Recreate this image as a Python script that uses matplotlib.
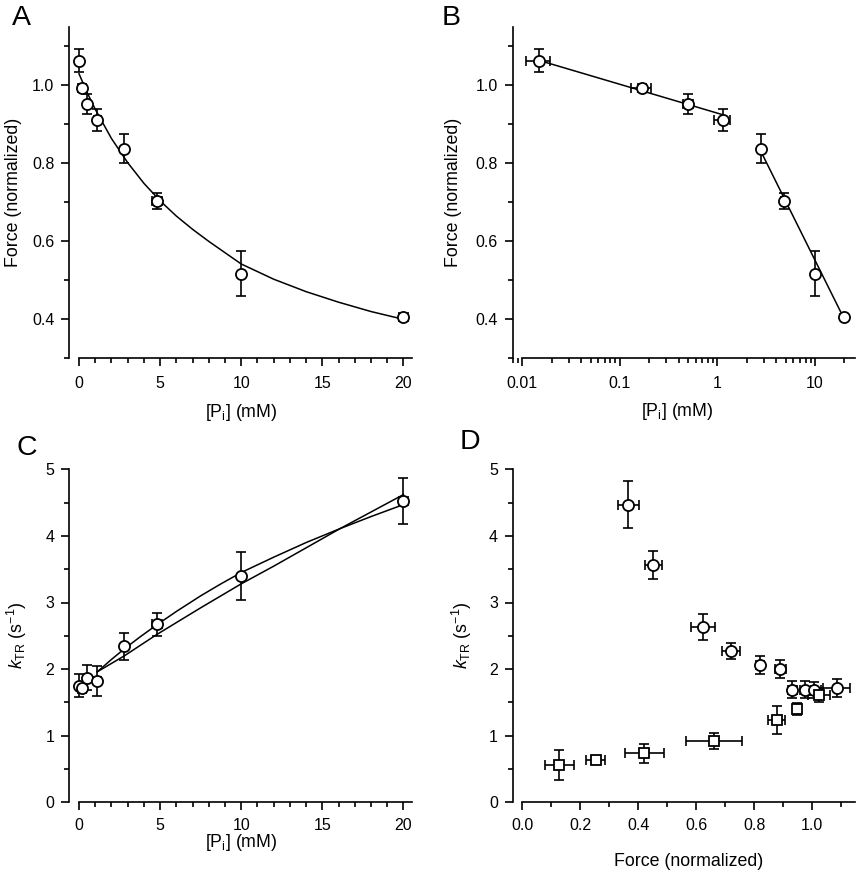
import matplotlib
matplotlib.use("Agg")
import matplotlib.pyplot as plt
from matplotlib.ticker import MultipleLocator, FormatStrFormatter, FixedLocator, FixedFormatter, LogLocator, NullFormatter

plt.rcParams['font.family'] = ['Liberation Sans', 'DejaVu Sans']
plt.rcParams['mathtext.fontset'] = 'custom'
plt.rcParams['mathtext.rm'] = 'Liberation Sans'
plt.rcParams['mathtext.it'] = 'Liberation Sans:italic'
plt.rcParams['mathtext.bf'] = 'Liberation Sans:bold'

# ---------------- data ----------------
pi_conc = [0.015, 0.17, 0.5, 1.13, 2.8, 4.8, 10, 20]
pi_err = [0.004, 0.04, 0.06, 0.2, 0.1, 0.3, 0.1, 0.3]
force = [1.064, 0.994, 0.953, 0.912, 0.838, 0.704, 0.517, 0.406]
force_err = [0.030, 0.010, 0.025, 0.028, 0.038, 0.020, 0.058, 0.008]

# fitted curve in A
fitA_x = [0, 0.5, 1, 2, 3, 4, 5, 6, 7, 8, 10, 12, 14, 16, 18, 20]
fitA_y = [1.030, 0.982, 0.939, 0.864, 0.802, 0.749, 0.704, 0.665, 0.631,
          0.600, 0.542, 0.503, 0.471, 0.444, 0.420, 0.400]

# line segments in B
segB1_x = [0.015, 1.13]
segB1_y = [1.064, 0.925]
segB2_x = [2.8, 20]
segB2_y = [0.83, 0.40]

# panel C
ktr = [1.75, 1.72, 1.87, 1.82, 2.34, 2.67, 3.40, 4.52]
ktr_err = [0.175, 0.08, 0.19, 0.22, 0.20, 0.17, 0.36, 0.345]
fitC1_x = [1.13, 2, 2.8, 3.8, 4.8, 6, 7.5, 8.75, 10, 12, 14, 16.1, 18, 20]
fitC1_y = [1.96, 2.145, 2.305, 2.49, 2.665, 2.865, 3.10, 3.28, 3.45, 3.68,
           3.90, 4.11, 4.29, 4.47]
fitC2_x = [1.13, 2.8, 4.8, 7.5, 10, 12, 16.1, 20]
fitC2_y = [1.96, 2.20, 2.52, 2.92, 3.28, 3.545, 4.11, 4.62]

# panel D circles
d_force_c = [0.366, 0.452, 0.624, 0.720, 0.820, 0.889, 0.931, 0.976, 1.004, 1.084]
d_force_c_err = [0.035, 0.030, 0.041, 0.032, 0.015, 0.019, 0.016, 0.020, 0.026, 0.047]
d_ktr_c = [4.47, 3.57, 2.63, 2.27, 2.06, 2.00, 1.69, 1.69, 1.69, 1.72]
d_ktr_c_err = [0.35, 0.21, 0.19, 0.12, 0.13, 0.14, 0.13, 0.13, 0.12, 0.135]
# panel D squares
d_force_s = [0.128, 0.253, 0.421, 0.661, 0.877, 0.946, 1.022]
d_force_s_err = [0.050, 0.033, 0.066, 0.098, 0.030, 0.008, 0.038]
d_ktr_s = [0.56, 0.636, 0.736, 0.921, 1.236, 1.40, 1.61]
d_ktr_s_err = [0.225, 0.05, 0.145, 0.12, 0.21, 0.085, 0.11]

xlabel_pi = r'[P$_{\mathrm{i}}$] (mM)'
ylabel_force = 'Force (normalized)'
ylabel_ktr = r'$k_{\mathrm{TR}}$ (s$^{\mathrm{-1}}$)'

# ---------------- figure ----------------
W, H = 858, 873
fig = plt.figure(figsize=(W / 100, H / 100), dpi=100)

def box(l, r, t, b):
    return [l / W, 1 - b / H, (r - l) / W, (b - t) / H]

axA = fig.add_axes(box(69, 412, 27, 358.3))
axB = fig.add_axes(box(512.7, 855, 27, 358.3))
axC = fig.add_axes(box(69, 412, 469.3, 802.3))
axD = fig.add_axes(box(512.7, 855, 469.3, 802.3))

LW = 1.2
eb_kw = dict(fmt='none', ecolor='black', elinewidth=LW, capsize=3.6, capthick=LW, zorder=2)
mk_kw = dict(linestyle='none', mfc='white', mec='black', mew=1.3, zorder=3)

def style(ax, xbounds, xpad, xlab_pos, ylab_pos, xlabel, ylabel):
    for s in ['top', 'right']:
        ax.spines[s].set_visible(False)
    for s in ['left', 'bottom']:
        ax.spines[s].set_linewidth(LW)
    ax.spines['bottom'].set_bounds(*xbounds)
    ax.tick_params(axis='both', which='both', direction='out', width=LW, labelsize=11.5)
    ax.tick_params(axis='y', which='major', length=6, pad=4.5)
    ax.tick_params(axis='y', which='minor', length=3.5)
    ax.tick_params(axis='x', which='major', length=5.5, pad=xpad)
    ax.tick_params(axis='x', which='minor', length=3.5)
    ax.set_xlabel(xlabel, fontsize=12.8)
    ax.set_ylabel(ylabel, fontsize=12.8)
    ax.xaxis.set_label_coords(*xlab_pos)
    ax.xaxis.label.set_verticalalignment('center')
    ax.yaxis.set_label_coords(*ylab_pos)
    ax.yaxis.label.set_verticalalignment('center')

# Panel A
axA.plot(fitA_x, fitA_y, color='black', lw=1.1, zorder=1)
axA.errorbar(pi_conc, force, yerr=force_err, xerr=pi_err, **eb_kw)
axA.plot(pi_conc, force, 'o', ms=8, **mk_kw)
axA.set_xlim(-0.617, 20.53)
axA.set_ylim(0.3, 1.15)
axA.xaxis.set_major_locator(MultipleLocator(5))
axA.xaxis.set_minor_locator(MultipleLocator(1))
axA.yaxis.set_major_locator(MultipleLocator(0.2))
axA.yaxis.set_minor_locator(MultipleLocator(0.1))
axA.yaxis.set_major_formatter(FormatStrFormatter('%.1f'))
style(axA, (0, 20.53), 7, (0.5035, -0.165), (-0.162, 0.5), xlabel_pi, ylabel_force)

# Panel B
axB.set_xscale('log')
axB.plot(segB1_x, segB1_y, color='black', lw=1.1, zorder=1)
axB.plot(segB2_x, segB2_y, color='black', lw=1.1, zorder=1)
axB.errorbar(pi_conc, force, yerr=force_err, xerr=pi_err, **eb_kw)
axB.plot(pi_conc, force, 'o', ms=8, **mk_kw)
axB.set_xlim(0.00797, 25.7)
axB.set_ylim(0.3, 1.15)
axB.xaxis.set_major_locator(FixedLocator([0.01, 0.1, 1, 10]))
axB.xaxis.set_major_formatter(FixedFormatter(['0.01', '0.1', '1', '10']))
axB.xaxis.set_minor_locator(LogLocator(base=10, subs=[2, 3, 4, 5, 6, 7, 8, 9]))
axB.xaxis.set_minor_formatter(NullFormatter())
axB.yaxis.set_major_locator(MultipleLocator(0.2))
axB.yaxis.set_minor_locator(MultipleLocator(0.1))
axB.yaxis.set_major_formatter(FormatStrFormatter('%.1f'))
style(axB, (0.01, 25.7), 7, (0.481, -0.161), (-0.1735, 0.5), xlabel_pi, ylabel_force)

# Panel C
axC.plot(fitC1_x, fitC1_y, color='black', lw=1.1, zorder=1)
axC.plot(fitC2_x, fitC2_y, color='black', lw=1.1, zorder=1)
axC.errorbar(pi_conc, ktr, yerr=ktr_err, xerr=pi_err, **eb_kw)
axC.plot(pi_conc, ktr, 'o', ms=8, **mk_kw)
axC.set_xlim(-0.617, 20.53)
axC.set_ylim(0, 5)
axC.xaxis.set_major_locator(MultipleLocator(5))
axC.xaxis.set_minor_locator(MultipleLocator(1))
axC.yaxis.set_major_locator(MultipleLocator(1))
axC.yaxis.set_minor_locator(MultipleLocator(0.5))
style(axC, (0, 20.53), 5.5, (0.5035, -0.122), (-0.152, 0.5), xlabel_pi, ylabel_ktr)

# Panel D
axD.errorbar(d_force_c, d_ktr_c, yerr=d_ktr_c_err, xerr=d_force_c_err, **eb_kw)
axD.plot(d_force_c, d_ktr_c, 'o', ms=8, **mk_kw)
axD.errorbar(d_force_s, d_ktr_s, yerr=d_ktr_s_err, xerr=d_force_s_err, **eb_kw)
axD.plot(d_force_s, d_ktr_s, 's', ms=6.5, **mk_kw)
axD.set_xlim(-0.033, 1.147)
axD.set_ylim(0, 5)
axD.xaxis.set_major_locator(MultipleLocator(0.2))
axD.xaxis.set_minor_locator(MultipleLocator(0.1))
axD.xaxis.set_major_formatter(FormatStrFormatter('%.1f'))
axD.yaxis.set_major_locator(MultipleLocator(1))
axD.yaxis.set_minor_locator(MultipleLocator(0.5))
style(axD, (0, 1.147), 5.5, (0.515, -0.178), (-0.149, 0.5), ylabel_force, ylabel_ktr)

# Panel letters
for lab, x, y in [('A', 11.7, 25), ('B', 441.7, 25), ('C', 16.7, 455), ('D', 460, 449)]:
    fig.text(x / W, 1 - y / H, lab, fontsize=20.5, ha='left', va='baseline')

fig.savefig('out.png', dpi=100)
